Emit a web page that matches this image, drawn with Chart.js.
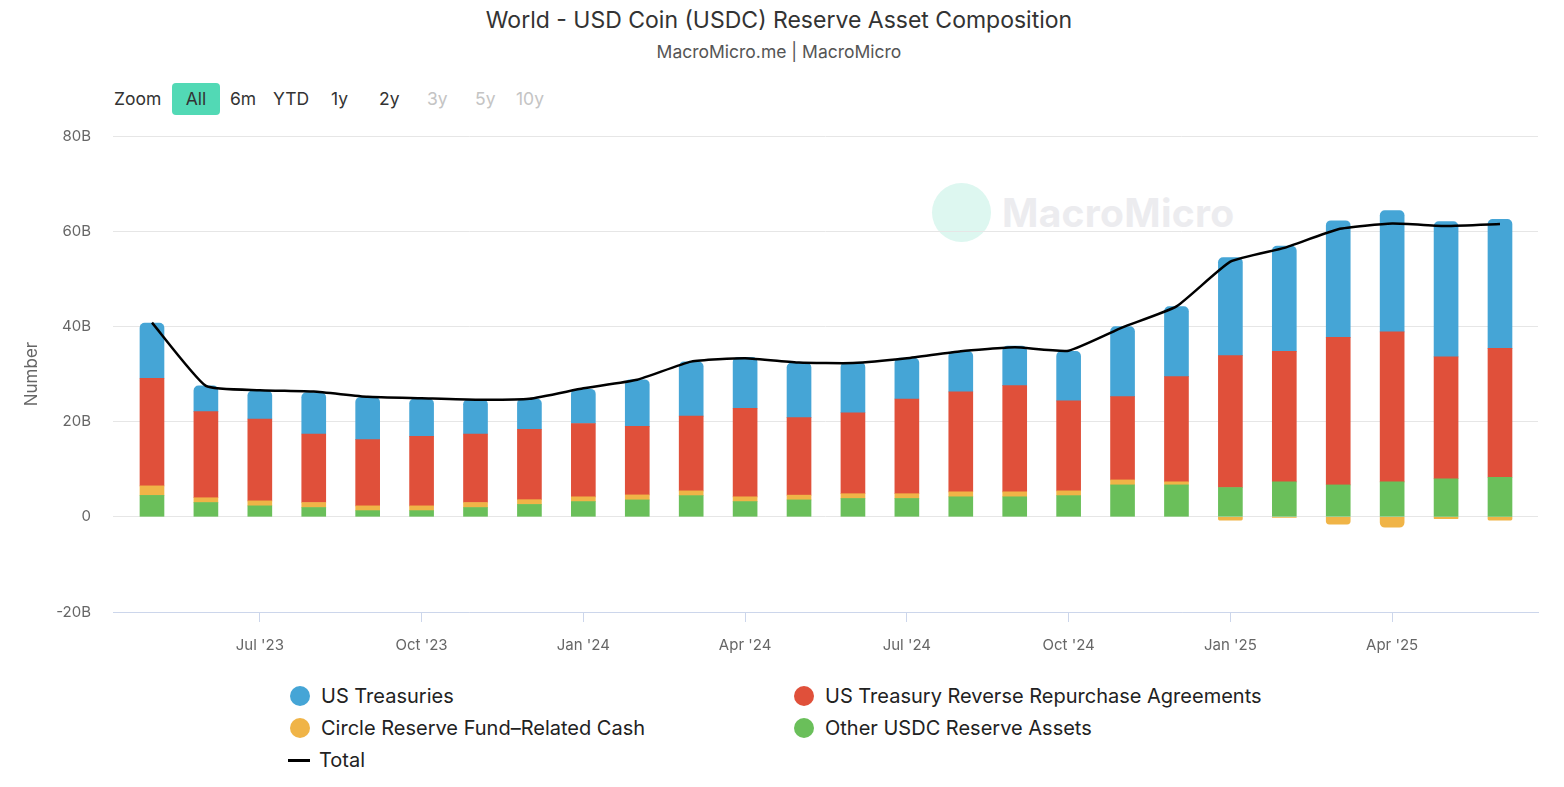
<!DOCTYPE html>
<html>
<head>
<meta charset="utf-8">
<script src="https://cdn.jsdelivr.net/npm/chart.js@4/dist/chart.umd.min.js"></script>
<style>
  body { margin: 0; background: #fff; font-family: Inter, "Noto Sans", sans-serif; color: #333; }
  #page { position: relative; width: 1564px; height: 787px; overflow: hidden; }
  #title { position: absolute; top: 6px; left: 0; width: 1558px; text-align: center; font-size: 23px; color: #333; }
  #subtitle { position: absolute; top: 41px; left: 0; width: 1558px; text-align: center; font-size: 17.5px; color: #555; }
  #zoom { position: absolute; top: 83px; left: 114px; font-size: 17.5px; color: #333; }
  #zoom span { position: absolute; top: 0; height: 32px; line-height: 32px; white-space: nowrap; }
  #zoom .off { color: #c4c4c4; }
  #zoom .on { background: #52d9b5; border-radius: 4px; text-align: center; width: 48px; }
  #wm { position: absolute; left: 932px; top: 183px; z-index: 0; }
  #wm .logo { position: absolute; left: 0; top: 0; width: 59px; height: 59px; border-radius: 50%; background: #ddf7f0; }
  #wm .txt { position: absolute; left: 70px; top: 6px; font-size: 39px; font-weight: 700; color: #ececef; white-space: nowrap; letter-spacing: 0.3px; }
  #wrap { position: absolute; left: 0; top: 105px; width: 1564px; height: 565px; z-index: 1; }
  #legend { position: absolute; top: 683px; left: 0; font-size: 20px; color: #222; }
  .item { position: absolute; white-space: nowrap; height: 26px; line-height: 26px; }
  .dot { position: absolute; left: 0; top: 3px; width: 20px; height: 20px; border-radius: 50%; }
  .dash { position: absolute; left: 0; top: 12px; width: 22px; height: 3px; background: #000; }
  .item .lbl { position: absolute; left: 31px; top: 0; }
</style>
</head>
<body>
<div id="page">
  <div id="title">World - USD Coin (USDC) Reserve Asset Composition</div>
  <div id="subtitle">MacroMicro.me | MacroMicro</div>
  <div id="zoom">
    <span style="left:0">Zoom</span>
    <span class="on" style="left:58px">All</span>
    <span style="left:116px">6m</span>
    <span style="left:159px">YTD</span>
    <span style="left:217px">1y</span>
    <span style="left:265px">2y</span>
    <span class="off" style="left:313px">3y</span>
    <span class="off" style="left:361px">5y</span>
    <span class="off" style="left:402px">10y</span>
  </div>
  <div id="wm"><div class="logo"></div><div class="txt">MacroMicro</div></div>
  <div id="wrap"><canvas id="myChart"></canvas></div>
  <div id="legend">
    <div class="item" style="left:290px;top:0"><div class="dot" style="background:#45a5d6"></div><span class="lbl">US Treasuries</span></div>
    <div class="item" style="left:794px;top:0"><div class="dot" style="background:#e0503a"></div><span class="lbl">US Treasury Reverse Repurchase Agreements</span></div>
    <div class="item" style="left:290px;top:32px"><div class="dot" style="background:#f0b447"></div><span class="lbl">Circle Reserve Fund–Related Cash</span></div>
    <div class="item" style="left:794px;top:32px"><div class="dot" style="background:#6abf5a"></div><span class="lbl">Other USDC Reserve Assets</span></div>
    <div class="item" style="left:288px;top:64px"><div class="dash"></div><span class="lbl">Total</span></div>
  </div>
</div>
<script>
// monthly, May 2023 .. Jun 2025 (billions)
var months = ["May '23","Jun '23","Jul '23","Aug '23","Sep '23","Oct '23","Nov '23","Dec '23",
              "Jan '24","Feb '24","Mar '24","Apr '24","May '24","Jun '24","Jul '24","Aug '24","Sep '24","Oct '24","Nov '24","Dec '24",
              "Jan '25","Feb '25","Mar '25","Apr '25","May '25","Jun '25"];
var treasuries = [11.6, 5.4, 5.9, 8.7, 8.9, 7.9, 7.2, 6.4, 7.2, 9.8, 11.4, 10.7, 11.5, 10.6, 8.6, 8.5, 8.3, 10.4, 14.7, 14.7, 20.6, 22.1, 24.5, 25.5, 28.4, 27.1];
var repo = [22.6, 18.1, 17.2, 14.4, 13.9, 14.6, 14.4, 14.8, 15.4, 14.4, 15.7, 18.6, 16.3, 17.0, 19.9, 21.0, 22.3, 18.9, 17.5, 22.1, 27.7, 27.4, 31.0, 31.5, 25.6, 27.1];
var circleCash = [2.0, 1.0, 1.05, 1.05, 1.0, 1.0, 1.05, 1.0, 1.0, 1.05, 1.0, 1.0, 1.0, 1.0, 1.0, 1.05, 1.05, 1.0, 1.05, 0.65, -0.7, -0.1, -1.55, -2.2, -0.4, -0.7];
var otherAssets = [4.5, 3.0, 2.3, 1.95, 1.3, 1.3, 1.95, 2.6, 3.2, 3.55, 4.45, 3.2, 3.55, 3.85, 3.85, 4.2, 4.2, 4.45, 6.7, 6.7, 6.15, 7.35, 6.7, 7.35, 8.0, 8.3];
var total = [40.8, 27.5, 26.6, 26.3, 25.2, 24.9, 24.6, 24.8, 27.0, 28.8, 32.6, 33.3, 32.4, 32.3, 33.3, 34.8, 35.6, 34.9, 39.8, 44.2, 53.6, 56.5, 60.4, 61.6, 61.1, 61.5];
var yTicks = [-20, 0, 20, 40, 60, 80];
var xTickIdx = [2, 5, 8, 11, 14, 17, 20, 23];

function pts(arr) {
    return arr.map(function (v, i) { return { x: i, y: v }; });
}

var textColor = '#666';
var tickFont = { family: 'Inter, "Noto Sans", sans-serif', size: 15 };

var ctx = document.getElementById('myChart');
var myChart = new Chart(ctx, {
    type: 'bar',
    data: {
        datasets: [
            { type: 'line', label: 'Total', data: pts(total), borderColor: '#000', borderWidth: 2.5,
              pointRadius: 0, tension: 0.15, stack: 'total', order: 0 },
            { label: 'Other USDC Reserve Assets', data: pts(otherAssets), backgroundColor: '#6abf5a', stack: 's', order: 1 },
            { label: 'Circle Reserve Fund–Related Cash', data: pts(circleCash), backgroundColor: '#f0b447', stack: 's', order: 1 },
            { label: 'US Treasury Reverse Repurchase Agreements', data: pts(repo), backgroundColor: '#e0503a', stack: 's', order: 1 },
            { label: 'US Treasuries', data: pts(treasuries), backgroundColor: '#45a5d6', stack: 's', order: 1 }
        ]
    },
    options: {
        responsive: true,
        maintainAspectRatio: false,
        animation: false,
        datasets: { bar: { barThickness: 24, borderRadius: 5 } },
        layout: { padding: { top: 21, right: 26, left: 22, bottom: 0 } },
        plugins: { legend: { display: false }, tooltip: { enabled: false } },
        scales: {
            x: {
                type: 'linear',
                min: -0.723,
                max: 25.705,
                offset: false,
                stacked: true,
                afterBuildTicks: function (scale) {
                    scale.ticks = xTickIdx.map(function (v) { return { value: v }; });
                },
                afterFit: function (scale) { scale.height = 58; },
                ticks: {
                    autoSkip: false,
                    maxRotation: 0,
                    color: textColor,
                    font: tickFont,
                    padding: 14,
                    callback: function (v) { return months[v] || null; }
                },
                grid: { offset: false, drawOnChartArea: false, drawTicks: true, tickLength: 10, color: '#ccd6eb' },
                border: { display: true, color: '#ccd6eb' }
            },
            y: {
                stacked: true,
                min: -20,
                max: 80,
                afterBuildTicks: function (scale) {
                    scale.ticks = yTicks.map(function (v) { return { value: v }; });
                },
                afterFit: function (scale) { scale.width = 91; },
                title: { display: true, text: 'Number', color: textColor, font: { family: tickFont.family, size: 17 }, padding: 0 },
                ticks: {
                    color: textColor,
                    font: tickFont,
                    padding: 22,
                    callback: function (v) { return v === 0 ? '0' : v + 'B'; }
                },
                grid: { color: '#e6e6e6', drawTicks: false },
                border: { display: false }
            }
        }
    }
});
</script>
</body>
</html>
